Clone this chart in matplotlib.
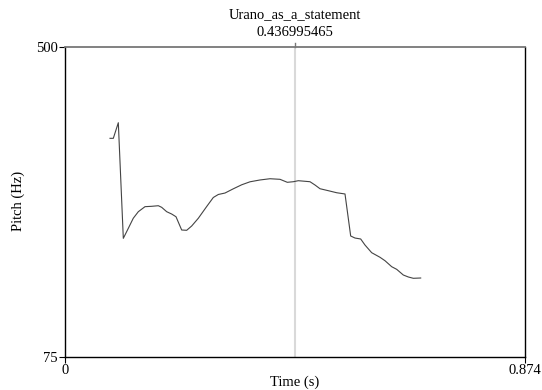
import matplotlib
matplotlib.use('Agg')
import matplotlib.pyplot as plt

# pitch contour
time = [0.0855, 0.0918, 0.1013, 0.1108, 0.1203, 0.1297, 0.1393, 0.1520, 0.1647,
        0.1773, 0.1837, 0.1932, 0.2027, 0.2109, 0.2217, 0.2312, 0.2407, 0.2533,
        0.2692, 0.2818, 0.2913, 0.3040, 0.3198, 0.3357, 0.3515, 0.3705, 0.3895,
        0.4085, 0.4224, 0.4338, 0.4433, 0.4655, 0.4750, 0.4845, 0.5003, 0.5162,
        0.5320, 0.5428, 0.5510, 0.5618, 0.5700, 0.5827, 0.5985, 0.6080, 0.6207,
        0.6302, 0.6428, 0.6523, 0.6618, 0.6758]
pitch = [374.8, 374.8, 396.2, 237.7, 251.4, 265.2, 274.2, 281.1, 281.6,
         282.4, 280.2, 274.2, 271.0, 267.3, 249.1, 248.7, 254.6, 265.2,
         281.3, 293.7, 297.8, 299.8, 305.6, 311.1, 315.2, 317.7, 319.4,
         318.6, 314.5, 315.3, 316.7, 315.3, 310.8, 305.7, 303.0, 300.2,
         298.5, 240.9, 238.1, 236.8, 228.5, 218.0, 211.7, 207.0, 198.8,
         195.2, 187.4, 184.7, 182.9, 183.3]
t_min, t_max = 0, 0.874
f_min, f_max = 75, 500
cursor = 0.436995465
name = 'Urano_as_a_statement'

plt.rcParams['font.family'] = ['Liberation Serif', 'DejaVu Serif']
plt.rcParams['font.size'] = 10.5

fig = plt.figure(figsize=(5.42, 3.9), dpi=100)
ax = fig.add_axes([65/542, 1-357/390, 460/542, 310/390])

ax.axvline(cursor, color='#d9d9d9', lw=1.5, zorder=1)
ax.plot(time, pitch, color='#444444', lw=0.8, zorder=2)

ax.set_xlim(t_min, t_max)
ax.set_ylim(f_min, f_max)
ax.set_xticks([t_min, t_max])
ax.set_xticklabels(['0', '0.874'])
ax.set_yticks([f_min, f_max])
ax.set_yticklabels(['75', '500'])
ax.tick_params(direction='out', length=4, width=0.8, color='black', pad=1)

ax.spines['top'].set_color('#777777')
ax.spines['top'].set_linewidth(1.3)
for s in ['left', 'right', 'bottom']:
    ax.spines[s].set_color('black')
    ax.spines[s].set_linewidth(1.0)

fig.text(295/542, 1-382/390, 'Time (s)', ha='center', va='center')
fig.text(18/542, 1-201/390, 'Pitch (Hz)', ha='center', va='center', rotation=90)

# small tick above the cursor position
ax.plot([cursor, cursor], [1.0, 1.012], transform=ax.get_xaxis_transform(),
        color='#777777', lw=1, clip_on=False)
ax.text(cursor, 1 + 11/310, f'{cursor:.9f}', transform=ax.get_xaxis_transform(),
        ha='center', va='baseline')
ax.text(cursor, 1 + 29/310, name, transform=ax.get_xaxis_transform(),
        ha='center', va='baseline')

fig.savefig('out.png', dpi=100)
